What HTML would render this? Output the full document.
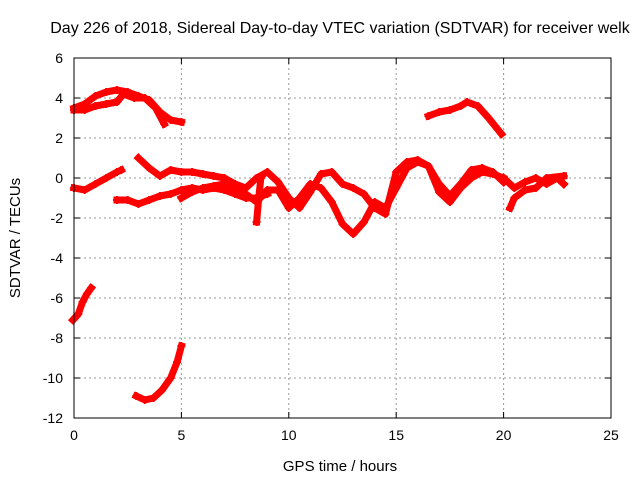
<!DOCTYPE html>
<html><head><meta charset="utf-8"><style>
body{margin:0;background:#fff}
svg{display:block;font-family:"Liberation Sans",sans-serif}
</style></head><body>
<svg id="chart" width="640" height="480">
<text x="340" y="33" font-size="16" text-anchor="middle">Day 226 of 2018, Sidereal Day-to-day VTEC variation (SDTVAR) for receiver welk</text>
<text x="340" y="471" font-size="15" text-anchor="middle">GPS time / hours</text>
<text x="20" y="238" font-size="15" text-anchor="middle" transform="rotate(-90 20 238)">SDTVAR / TECUs</text>
<g id="grid"></g>
<g id="series"></g>
<rect x="74" y="58" width="537" height="360" fill="none" stroke="#000" stroke-width="1"/>
</svg>
<script>
const xTicks=[0,5,10,15,20,25];
const yTicks=[6,4,2,0,-2,-4,-6,-8,-10,-12];
const t1=[[0,3.5],[0.5,3.7],[1,4.1],[1.5,4.3],[2,4.4],[2.5,4.3],[3,4.1],[3.5,3.9],[4,3.3],[4.5,2.9],[5,2.8]];
const t2=[[0,3.4],[0.5,3.4],[1,3.6],[1.5,3.7],[2,3.8],[2.3,4.2],[2.8,4.0],[3.3,4.0],[3.8,3.5],[4.2,2.7]];
const t3=[[16.5,3.1],[17,3.3],[17.5,3.4],[18,3.6],[18.3,3.8],[18.8,3.6],[19.3,3.0],[19.9,2.2]];
const t4=[[0,-0.5],[0.5,-0.6],[1,-0.3],[1.5,0],[2,0.3],[2.2,0.4]];
const t5=[[2,-1.1],[2.5,-1.1],[3,-1.3],[3.5,-1.1],[4,-0.9],[4.5,-0.8],[5,-0.6],[5.5,-0.5],[6,-0.6],[6.5,-0.5],[7,-0.6],[7.5,-0.8],[8,-1.0],[8.5,-1.0],[9,-0.8]];
const t6=[[3,1.0],[3.5,0.5],[4,0.1],[4.5,0.4],[5,0.3],[5.5,0.3],[6,0.2],[6.5,0.1],[7,0],[7.5,-0.3],[8,-0.5],[8.5,0],[9,0.3],[9.5,-0.2],[10,-1.0],[10.5,-1.5],[11,-0.7],[11.5,0.2],[12,0.3],[12.5,-0.3],[13,-0.5],[13.5,-0.8],[14,-1.5],[14.5,-1.8],[15,0.3],[15.5,0.8],[16,0.9],[16.5,0.6],[17,-0.7],[17.5,-1.2],[18,-0.5],[18.5,0],[19,0.3],[19.5,0.2],[20,0]];
const t7=[[5,-1.0],[5.5,-0.7],[6,-0.5],[6.5,-0.4],[7,-0.3],[7.5,-0.5],[8,-0.8],[8.5,-1.2],[9,-0.6],[9.5,-0.6],[10,-1.5],[10.5,-1.0],[11,-0.3],[11.5,-0.5],[12,-1.2],[12.5,-2.3],[13,-2.8],[13.5,-2.2],[14,-1.2],[14.5,-1.5],[15,-0.5],[15.5,0.5],[16,0.8],[16.5,0.6],[17,-0.3],[17.5,-0.9],[18,-0.3],[18.5,0.4],[19,0.5],[19.5,0.3],[20,-0.2]];
const t8=[[8.7,0],[8.6,-1],[8.5,-2.2]];
const t9=[[20,0],[20.5,-0.5],[21,-0.2],[21.5,0],[22,-0.3],[22.5,0],[22.8,-0.3]];
const t10=[[20.3,-1.5],[20.5,-1],[21,-0.6],[21.5,-0.5],[22,0],[22.8,0.1]];
const t11=[[-0.05,-7.1],[0.2,-6.8],[0.4,-6.2],[0.6,-5.8],[0.8,-5.5]];
const t12=[[2.9,-10.9],[3.3,-11.1],[3.7,-11],[4.1,-10.6],[4.5,-10.0],[4.8,-9.2],[5,-8.4]];
const tracks=[t1,t2,t3,t4,t5,t6,t7,t8,t9,t10,t11,t12];
const X0=74,X1=611,Y0=58,Y1=418;
const xs=h=>X0+(h-0)/(25-0)*(X1-X0);
const ys=v=>Y0+(6-v)/(6-(-12))*(Y1-Y0);
const NS='http://www.w3.org/2000/svg';
const grid=document.getElementById('grid'),ser=document.getElementById('series');
function mk(tag,attrs,parent){const e=document.createElementNS(NS,tag);for(const k in attrs)e.setAttribute(k,attrs[k]);parent.appendChild(e);return e;}
xTicks.forEach(t=>{const x=xs(t);
 if(t>0&&t<25){const l=mk('line',{x1:x,x2:x,y1:Y0,y2:Y1,stroke:'#999','stroke-dasharray':'2,3'},grid);
 
 }
 const tx=mk('text',{x:x,y:Y1+22,'font-size':14,'text-anchor':'middle'},grid);tx.textContent=t;
 
 
 mk('line',{x1:x,x2:x,y1:Y1,y2:Y1-6,stroke:'#000'},grid);mk('line',{x1:x,x2:x,y1:Y0,y2:Y0+6,stroke:'#000'},grid);});
yTicks.forEach(t=>{const y=ys(t);
 if(t<6&&t>-12){const l=mk('line',{x1:X0,x2:X1,y1:y,y2:y,stroke:'#999','stroke-dasharray':'2,3'},grid);
 
 }
 const tx=mk('text',{x:X0-11,y:y+5,'font-size':14,'text-anchor':'end'},grid);tx.textContent=t;
 
 
 mk('line',{x1:X0,x2:X0+6,y1:y,y2:y,stroke:'#000'},grid);mk('line',{x1:X1,x2:X1-6,y1:y,y2:y,stroke:'#000'},grid);});
tracks.forEach((tr,i)=>{
 const p=mk('polyline',{points:tr.map(d=>xs(d[0])+','+ys(d[1])).join(' '),fill:'none',stroke:'#f00','stroke-width':7,'stroke-linejoin':'round','stroke-linecap':'square'},ser);
 
 
 tr.forEach(d=>{const x=xs(d[0]),y=ys(d[1]);
  const c=mk('path',{d:`M${x-4},${y}h8M${x},${y-4}v8`,stroke:'#f00','stroke-width':2},ser);
  
  });
});
</script>
</body></html>
